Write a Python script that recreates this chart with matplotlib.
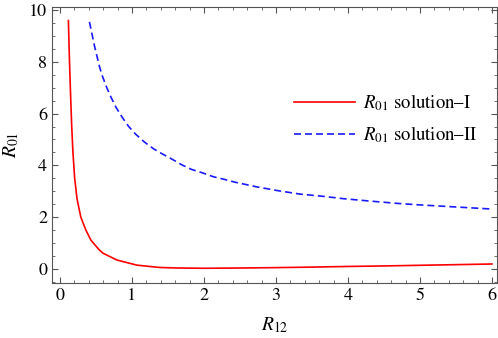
import matplotlib
matplotlib.use("Agg")
import matplotlib.pyplot as plt
from matplotlib.ticker import MultipleLocator

# values
r12_sol1 = [0.118, 0.128, 0.139, 0.151, 0.164, 0.181, 0.205, 0.238, 0.29, 0.36, 0.43,
            0.54, 0.60, 0.79, 1.07, 1.39, 1.64, 2.0, 2.5, 3.0, 3.5, 4.0, 4.5, 5.0,
            5.5, 6.0]
r01_sol1 = [9.6, 8.5, 7.5, 6.5, 5.5, 4.5, 3.5, 2.7, 2.0, 1.5, 1.11,
            0.75, 0.60, 0.34, 0.14, 0.05, 0.03, 0.02, 0.03, 0.045, 0.065, 0.09, 0.11, 0.135,
            0.16, 0.185]

r12_sol2 = [0.41, 0.48, 0.55, 0.59, 0.65, 0.71, 0.78, 0.86, 0.95, 1.05, 1.17, 1.30,
            1.43, 1.55, 1.70, 1.83, 1.98, 2.13, 2.28, 2.43, 2.58, 2.73, 3.03, 3.33,
            3.66, 3.94, 4.30, 4.68, 5.0, 5.5, 6.0]
r01_sol2 = [9.55, 8.62, 7.81, 7.45, 7.01, 6.63, 6.24, 5.88, 5.52, 5.21, 4.91, 4.64,
            4.43, 4.25, 4.01, 3.84, 3.71, 3.56, 3.46, 3.35, 3.26, 3.17, 3.02, 2.89,
            2.80, 2.71, 2.62, 2.53, 2.47, 2.39, 2.31]

plt.rcParams['font.family'] = ['STIXGeneral', 'DejaVu Serif']
plt.rcParams['mathtext.fontset'] = 'stix'

fig = plt.figure(figsize=(4.98, 3.38), dpi=100)
ax = fig.add_axes([0.1044, 0.1627, 0.8936, 0.8163])

ax.plot(r12_sol1, r01_sol1, color='#ff0000', lw=1.2, label=r'$R_{01}$ solution–I')
ax.plot(r12_sol2, r01_sol2, color='#1a1aff', lw=1.2, dashes=(4.2, 2.4),
        label=r'$R_{01}$ solution–II')

ax.set_xlim(-0.11, 6.07)
ax.set_ylim(-0.55, 10.12)
ax.xaxis.set_major_locator(MultipleLocator(1))
ax.xaxis.set_minor_locator(MultipleLocator(0.2))
ax.yaxis.set_major_locator(MultipleLocator(2))
ax.yaxis.set_minor_locator(MultipleLocator(0.5))
ax.tick_params(which='both', direction='in', top=True, right=True,
               color='#555555', labelsize=13)
ax.tick_params(which='major', length=4, width=0.8)
ax.tick_params(which='minor', length=2, width=0.6)
for s in ax.spines.values():
    s.set_color('#555555')
    s.set_linewidth(0.8)

ax.set_xlabel(r'$R_{12}$', fontsize=14, labelpad=8)
ax.set_ylabel(r'$R_{01}$', fontsize=14, labelpad=6)

ax.legend(loc='upper left', bbox_to_anchor=(0.544, 0.69), frameon=False,
          fontsize=13.5, handlelength=3.25, handletextpad=0.45, labelspacing=0.6,
          borderpad=0, borderaxespad=0)

fig.savefig("out.png", dpi=100)
